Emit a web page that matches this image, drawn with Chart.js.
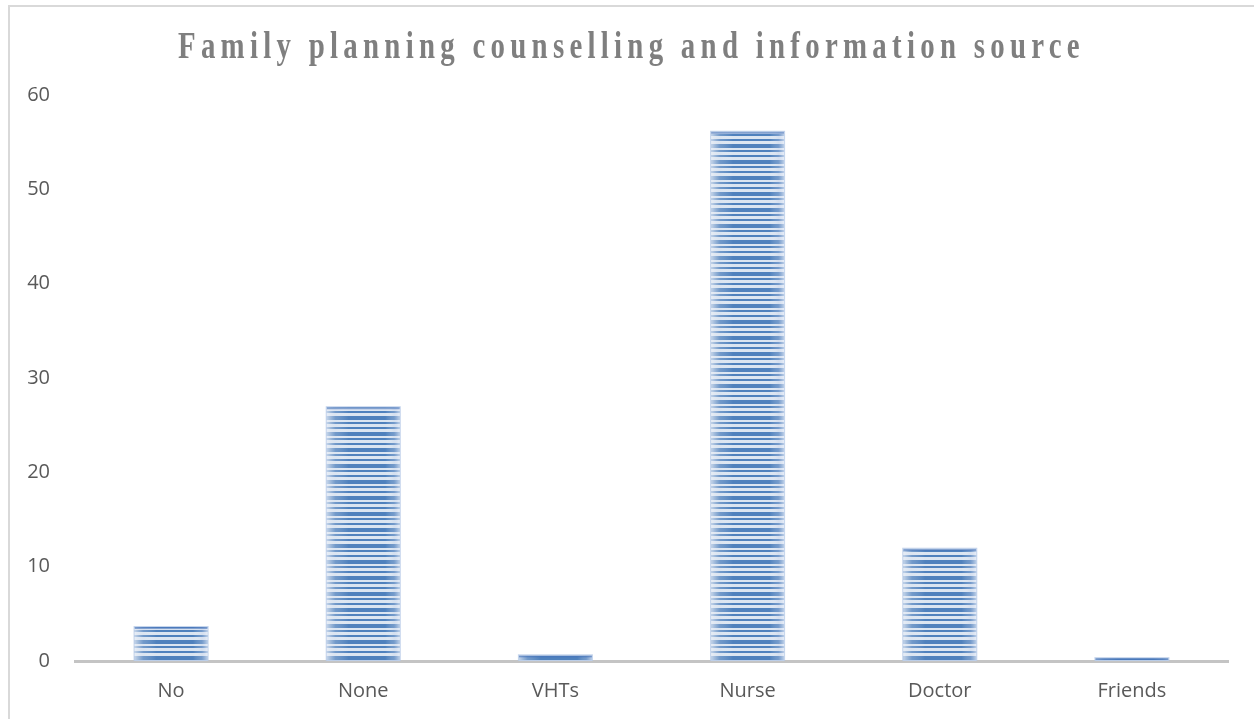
<!DOCTYPE html>
<html>
<head>
<meta charset="utf-8">
<script src="https://cdn.jsdelivr.net/npm/chart.js@4.4.0/dist/chart.umd.min.js"></script>
<style>
  html, body { margin: 0; padding: 0; background: #fff; overflow: hidden; }
  #wrap { position: relative; width: 1254px; height: 719px; }
  #frame {
    position: absolute; left: 8px; top: 5px; width: 1400px; height: 800px;
    border: 2px solid #d9d9d9; box-sizing: border-box;
  }
  canvas { position: absolute; left: 0; top: 0; }
</style>
</head>
<body>
<div id="wrap">
  <div id="frame"></div>
  <canvas id="fpChart" width="1254" height="719"></canvas>
</div>
<script>
// Datos del gráfico
const chartTitle = 'Family planning counselling and information source';
const categorias = ['No', 'None', 'VHTs', 'Nurse', 'Doctor', 'Friends'];
const porcentajes = [3.6, 26.9, 0.6, 56.1, 11.9, 0.3];
const yMax = 60;
const yStep = 10;

// Patrón de rayas horizontales para las barras
function crearPatron(ctx) {
  const rayas = [['#4f81bd', 4], ['#dbe5f1', 2], ['#4f81bd', 2], ['#dbe5f1', 3], ['#4f81bd', 2], ['#dbe5f1', 3]];
  const alto = rayas.reduce((s, r) => s + r[1], 0);
  const c = document.createElement('canvas');
  c.width = 4;
  c.height = alto;
  const pc = c.getContext('2d');
  let y = 0;
  rayas.forEach(([color, h]) => {
    pc.fillStyle = color;
    pc.fillRect(0, y, 4, h);
    y += h;
  });
  return ctx.createPattern(c, 'repeat');
}

// Brillo en los bordes de cada barra
const bordesBarra = {
  id: 'bordesBarra',
  afterDatasetsDraw(chart) {
    const ctx = chart.ctx;
    chart.getDatasetMeta(0).data.forEach(bar => {
      const left = bar.x - bar.width / 2;
      const right = bar.x + bar.width / 2;
      const top = bar.y;
      const h = bar.base - bar.y;
      const g = ctx.createLinearGradient(left, 0, right, 0);
      g.addColorStop(0, 'rgba(235,240,248,0.75)');
      g.addColorStop(0.12, 'rgba(220,228,240,0.25)');
      g.addColorStop(0.3, 'rgba(255,255,255,0)');
      g.addColorStop(0.8, 'rgba(255,255,255,0)');
      g.addColorStop(0.92, 'rgba(200,212,235,0.3)');
      g.addColorStop(1, 'rgba(235,240,250,0.7)');
      ctx.save();
      ctx.fillStyle = g;
      ctx.fillRect(left, top, right - left, h);
      ctx.fillStyle = 'rgba(70,115,185,0.6)';
      ctx.fillRect(left, top, right - left, Math.min(2, h));
      ctx.strokeStyle = 'rgba(180,200,230,0.8)';
      ctx.lineWidth = 1;
      ctx.strokeRect(left - 0.5, top - 0.5, right - left + 1, h);
      ctx.restore();
    });
  }
};

// Título con espaciado entre letras
const tituloEspaciado = {
  id: 'tituloEspaciado',
  afterDraw(chart) {
    const ctx = chart.ctx;
    const anchoObjetivo = 907;
    const escalaX = 0.78;
    ctx.save();
    ctx.font = 'bold 37px "Liberation Serif"';
    ctx.fillStyle = '#7f7f7f';
    ctx.textBaseline = 'alphabetic';
    ctx.letterSpacing = '0px';
    const base = ctx.measureText(chartTitle).width * escalaX;
    const esp = (anchoObjetivo - base) / (chartTitle.length * escalaX);
    ctx.letterSpacing = esp.toFixed(2) + 'px';
    ctx.translate(178, 58);
    ctx.scale(escalaX, 1);
    ctx.textAlign = 'left';
    ctx.fillText(chartTitle, 0, 0);
    ctx.restore();
  }
};

const ctx = document.getElementById('fpChart').getContext('2d');

const fpChart = new Chart(ctx, {
  type: 'bar',
  data: {
    labels: categorias,
    datasets: [{
      data: porcentajes,
      backgroundColor: crearPatron(ctx),
      borderWidth: 0,
      categoryPercentage: 1,
      barPercentage: 0.38
    }]
  },
  options: {
    responsive: false,
    animation: false,
    layout: { padding: { top: 95, right: 26, bottom: 0, left: 0 } },
    plugins: {
      legend: { display: false },
      title: { display: false },
      tooltip: { enabled: false }
    },
    scales: {
      x: {
        afterFit(scale) { scale.height = 58; },
        grid: { display: false, drawTicks: false },
        border: { display: true, color: '#c4c4c4', width: 3 },
        ticks: {
          color: '#595959',
          font: { family: '"Open Sans"', size: 20 },
          padding: 18
        }
      },
      y: {
        min: 0,
        max: yMax,
        afterFit(scale) { scale.width = 75; },
        grid: { display: false, drawTicks: false },
        border: { display: false },
        ticks: {
          stepSize: yStep,
          color: '#595959',
          font: { family: '"Open Sans"', size: 20 },
          padding: 25
        }
      }
    }
  },
  plugins: [bordesBarra, tituloEspaciado]
});
</script>
</body>
</html>
